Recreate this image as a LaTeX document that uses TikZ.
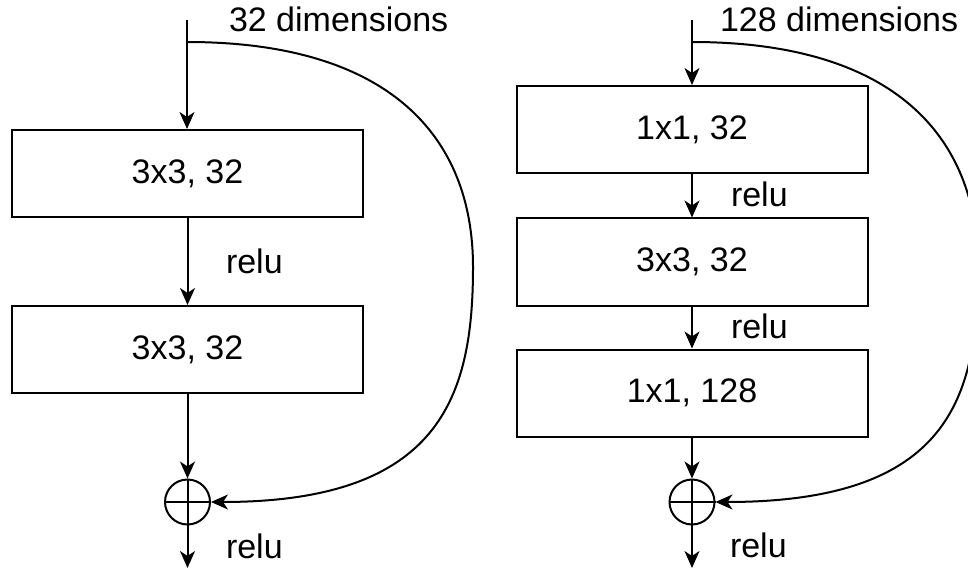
\documentclass[tikz,border=0pt]{standalone}
\usepackage{fontspec}
\setmainfont{Liberation Sans}
\usetikzlibrary{arrows.meta}
\begin{document}
\begin{tikzpicture}[x=1pt,y=-1pt,
  line width=2pt,
  every node/.style={font=\fontsize{34}{41}\selectfont},
  layer/.style={draw, rectangle, minimum width=351pt, minimum height=87pt, inner sep=0pt},
  sumnode/.style={draw, circle, minimum size=45pt, inner sep=0pt},
  lbl/.style={anchor=base west, inner sep=0pt},
  arr/.style={-{Stealth[length=17pt,width=15pt,inset=5pt]}}
]
\useasboundingbox (0,0) rectangle (968,569);
% left block
\coordinate (Ltop) at (187,20);
\coordinate (Lsplit) at (187,42);
\node[layer] (L1) at (187.5,173.5) {3x3, 32};
\node[layer] (L2) at (187.5,349.5) {3x3, 32};
\node[sumnode] (Ls) at (187.5,502) {};
\coordinate (Lout) at (187.5,568);
\node[lbl] (Ldim) at (228,32) {32 dimensions};
\node[lbl] (Lr1) at (225,273) {relu};
\node[lbl] (Lr2) at (225,558) {relu};
\draw[arr] (Ltop) -- (L1.north -| Ltop);
\draw[arr] (L1) -- (L2);
\draw[arr] (L2) -- (Ls);
\draw[arr] (Ls) -- (Lout);
\draw (Ls.north) -- (Ls.south) (Ls.west) -- (Ls.east);
\draw[arr] (Lsplit) .. controls (390,42) and (473,137) .. (473,267)
  .. controls (473,397) and (440,502) .. (Ls.east);
% right block
\coordinate (Rtop) at (692,20);
\coordinate (Rsplit) at (692,42);
\node[layer] (R1) at (692,129.5) {1x1, 32};
\node[layer] (R2) at (692,262) {3x3, 32};
\node[layer] (R3) at (692,393) {1x1, 128};
\node[sumnode] (Rs) at (692,502) {};
\coordinate (Rout) at (692,568);
\node[lbl] (Rdim) at (719,32) {128 dimensions};
\node[lbl] (Rr1) at (730,207) {relu};
\node[lbl] (Rr2) at (730,338) {relu};
\node[lbl] (Rr3) at (729,557) {relu};
\draw[arr] (Rtop) -- (R1);
\draw[arr] (R1) -- (R2);
\draw[arr] (R2) -- (R3);
\draw[arr] (R3) -- (Rs);
\draw[arr] (Rs) -- (Rout);
\draw (Rs.north) -- (Rs.south) (Rs.west) -- (Rs.east);
\draw[arr] (Rsplit) .. controls (895,42) and (978,137) .. (978,267)
  .. controls (978,397) and (950,502) .. (Rs.east);
\end{tikzpicture}
\end{document}
